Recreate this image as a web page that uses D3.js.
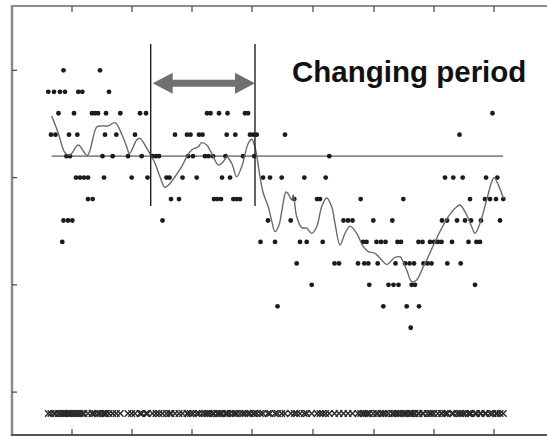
<!DOCTYPE html>
<html><head><meta charset="utf-8">
<script src="https://cdn.jsdelivr.net/npm/d3@7"></script>
<style>html,body{margin:0;padding:0;background:#fff;} svg{display:block}</style>
</head><body><svg id="c" width="547" height="437"></svg>
<script>
// ---- data ----
const yTicks = [0, 5, 10, 15];
const xTicks = [60, 120, 180, 240, 301, 362, 422, 482];
const levels = [15, 14, 13, 12, 11, 10, 9, 8, 7, 6, 5, 4, 3];
const obsTimes = [
  [51.5, 88],
  [36.3, 42, 48, 53, 66.3, 70.3, 97],
  [46.5, 62, 80, 83, 86, 94, 108.3, 128, 134, 195, 198.5, 207, 215.5, 233, 236, 480.5],
  [39, 43.5, 57, 65.3, 93, 104.3, 123, 163, 175, 178.5, 187, 190.5, 214.7, 223.3, 238, 241.3, 244.7, 273, 447.5],
  [54.5, 58, 90.5, 100.7, 116, 129.7, 140.5, 144, 147, 176, 181, 193, 196.5, 201, 213.5, 231, 242.3, 317.3],
  [64, 68, 72, 76, 92, 119.7, 135.5, 154.5, 157.5, 170.5, 184.7, 210, 218, 251, 258, 269.7, 292.3, 313.7, 433, 441.3, 450.7, 474, 485.3],
  [76, 80.7, 159, 167, 202, 205.3, 209, 221.3, 224.7, 228, 282.3, 305, 308, 348.7, 391.3, 458, 473, 478, 484, 491.3],
  [51.5, 56, 60.3, 150.5, 256, 278.7, 331.5, 336, 340.5, 361.3, 380.3, 430, 435, 445, 453, 459, 469, 488],
  [50.3, 248.5, 263, 288, 294.7, 310.7, 351, 354.5, 364.5, 369, 373.5, 385.5, 389, 406.5, 410.5, 418, 422, 426, 429.5, 440, 456.5, 464.5, 468],
  [284.7, 322.5, 327, 346, 352.3, 356.3, 365.7, 383.5, 393, 397.5, 402, 411.5, 415.5, 419.5, 435.3, 448.7],
  [299.7, 357.3, 376.5, 381.5, 386.5, 399.7, 403, 463],
  [265.5, 371.3, 394.7, 407],
  [398.7]
];
const trendTime = [39.7, 46.3, 53, 58, 66.3, 75.3, 84.7, 89.7, 96.3, 103, 109.7, 114.7, 117.5, 124.7, 128, 134.7, 139.7, 143, 148, 153, 158, 163, 169.7, 174.7, 179.7, 186.3, 189.7, 194.7, 199.7, 206.3, 211.3, 214.7, 219.7, 224.7, 229.7, 236.3, 239.7, 243, 248, 251.3, 256.3, 259.5, 263, 267, 270, 274, 276.3, 279.7, 281.3, 284.7, 289.7, 294.7, 299.7, 304.7, 309.7, 314.7, 319.7, 323, 328, 333, 338, 344.7, 351.3, 356.3, 363, 369.7, 374.7, 383, 388, 394.7, 399.7, 404.7, 411.3, 414.7, 423, 429.7, 436.3, 444.7, 448, 453, 459.7, 463, 468, 474.7, 479.7, 482, 486.3, 491.3];
const trendValue = [12.87, 12.07, 11.16, 11.05, 11.52, 11.03, 12.36, 12.41, 12.41, 12.56, 12.03, 11.44, 11.12, 11.75, 11.83, 11.37, 10.97, 10.67, 10.04, 9.55, 9.73, 10.04, 10.51, 10.97, 11.29, 11.44, 11.63, 11.52, 11.13, 10.59, 10.74, 10.97, 10.67, 10.04, 10.51, 11.60, 11.79, 11.43, 10.04, 9.27, 8.64, 8.02, 7.48, 7.79, 8.49, 9.33, 9.24, 8.96, 9.19, 8.18, 7.67, 7.64, 7.40, 7.71, 8.64, 9.05, 8.64, 7.87, 6.86, 7.40, 7.74, 7.40, 6.78, 6.55, 6.47, 6.16, 5.95, 6.28, 6.30, 5.69, 5.15, 5.23, 5.85, 6.16, 7.01, 7.64, 8.18, 8.64, 8.72, 8.41, 7.71, 7.40, 7.87, 8.96, 9.81, 10.00, 9.66, 9.05];
const referenceLevel = 11;
const referenceSpan = [39.7, 491];
const periodBounds = [138.7, 243];
const periodLevels = [8.68, 16.23];
const arrowSpan = [140.7, 243];
const arrowLevel = 14.40;
const labelText = "Changing period";
const labelAt = [280, 14.46];
const markerLevel = -1;

// ---- chart ----
const svg = d3.select("#c");
const x = d3.scaleLinear().domain([0, 534]).range([12, 546]);
const y = d3.scaleLinear().domain([-2, 18]).range([435, 6]);

svg.append("rect").attr("width", 547).attr("height", 437).attr("fill", "#fff");

// frame
const frame = svg.append("g").attr("fill", "none");
frame.append("line").attr("x1", 11).attr("x2", 547).attr("y1", 6).attr("y2", 6).attr("stroke", "#8c8c8c").attr("stroke-width", 2);
frame.append("line").attr("x1", 12).attr("x2", 12).attr("y1", 5).attr("y2", 436).attr("stroke", "#8c8c8c").attr("stroke-width", 2.5);
frame.append("line").attr("x1", 11).attr("x2", 547).attr("y1", 435).attr("y2", 435).attr("stroke", "#555").attr("stroke-width", 2);

// ticks (inward)
const tk = svg.append("g").attr("stroke", "#444").attr("stroke-width", 1.2);
yTicks.forEach(v => tk.append("line").attr("x1", 12).attr("x2", 17).attr("y1", y(v)).attr("y2", y(v)));
xTicks.forEach(t => {
  tk.append("line").attr("x1", x(t)).attr("x2", x(t)).attr("y1", 6).attr("y2", 12);
  tk.append("line").attr("x1", x(t)).attr("x2", x(t)).attr("y1", 435).attr("y2", 429);
});

// reference line
svg.append("line")
  .attr("x1", x(referenceSpan[0])).attr("x2", x(referenceSpan[1]))
  .attr("y1", y(referenceLevel)).attr("y2", y(referenceLevel))
  .attr("stroke", "#8a8a8a").attr("stroke-width", 1.6);

// dots
const dots = [];
levels.forEach((lv, i) => obsTimes[i].forEach(t => dots.push({t, v: lv})));
svg.append("g").selectAll("circle").data(dots).join("circle")
  .attr("cx", d => x(d.t)).attr("cy", d => y(d.v)).attr("r", 2.4).attr("fill", "#1c1c1c");

// trend line
const trend = trendTime.map((t, i) => [t, trendValue[i]]);
svg.append("path").datum(trend)
  .attr("d", d3.line().x(d => x(d[0])).y(d => y(d[1])).curve(d3.curveCatmullRom.alpha(0.5)))
  .attr("fill", "none").attr("stroke", "#6a6a6a").attr("stroke-width", 1.4);

// bottom marker row
const times = Array.from(new Set(dots.map(d => d.t))).sort((a, b) => a - b);
svg.append("g").selectAll("path").data(times).join("path")
  .attr("transform", t => `translate(${x(t)},${y(markerLevel)})`)
  .attr("d", d3.symbol().type(d3.symbolTimes).size(30))
  .attr("fill", "none").attr("stroke", "#2a2a2a").attr("stroke-width", 1.4);

// period bounds
periodBounds.forEach(t => svg.append("line")
  .attr("x1", x(t)).attr("x2", x(t))
  .attr("y1", y(periodLevels[1])).attr("y2", y(periodLevels[0]))
  .attr("stroke", "#222").attr("stroke-width", 1.4));

// double arrow
const ax1 = x(arrowSpan[0]), ax2 = x(arrowSpan[1]), ay = y(arrowLevel);
const hl = 20, hh = 10.5, sh = 3.5;
svg.append("path")
  .attr("d", `M${ax1},${ay} L${ax1 + hl},${ay - hh} L${ax1 + hl},${ay - sh} L${ax2 - hl},${ay - sh} L${ax2 - hl},${ay - hh} L${ax2},${ay} L${ax2 - hl},${ay + hh} L${ax2 - hl},${ay + sh} L${ax1 + hl},${ay + sh} L${ax1 + hl},${ay + hh} Z`)
  .attr("fill", "#707070");

// label
svg.append("text").attr("x", x(labelAt[0])).attr("y", y(labelAt[1]))
  .attr("font-family", "'Liberation Sans', Arial, sans-serif").attr("font-weight", "bold")
  .attr("font-size", 29.5).attr("fill", "#111").text(labelText);
</script>
</body></html>
